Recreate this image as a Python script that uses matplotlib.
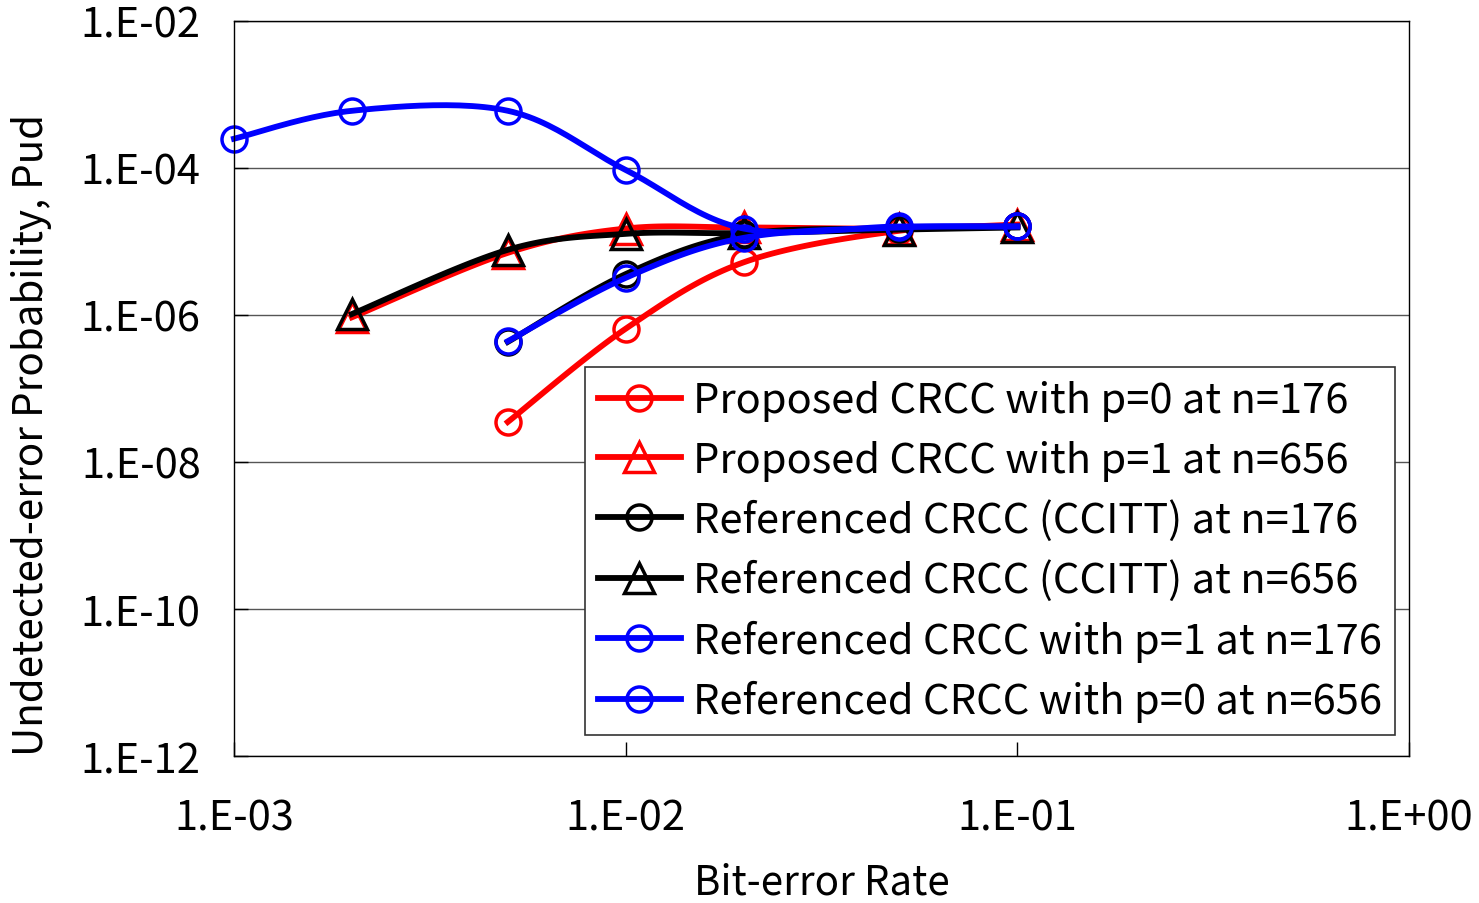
import numpy as np
import matplotlib.pyplot as plt
from matplotlib.ticker import NullLocator

plt.rcParams['font.family'] = ['Noto Sans CJK JP', 'DejaVu Sans']

# bit-error rates where each series was evaluated
ber_5 = [0.005, 0.01, 0.02, 0.05, 0.1]
ber_6 = [0.002, 0.005, 0.01, 0.02, 0.05, 0.1]
ber_7 = [0.001, 0.002, 0.005, 0.01, 0.02, 0.05, 0.1]

# undetected-error probability
prop_p0_176 = [3.5e-8, 6.5e-7, 5.2e-6, 1.4e-5, 1.6e-5]
prop_p1_656 = [9.3e-7, 7.0e-6, 1.5e-5, 1.55e-5, 1.5e-5, 1.7e-5]
ccitt_176 = [4.3e-7, 3.6e-6, 1.25e-5, 1.5e-5, 1.6e-5]
ccitt_656 = [1.03e-6, 7.7e-6, 1.27e-5, 1.3e-5, 1.45e-5, 1.55e-5]
ref_p1_176 = [4.4e-7, 3.2e-6, 1.12e-5, 1.55e-5, 1.6e-5]
ref_p0_656 = [2.5e-4, 6.0e-4, 6.0e-4, 9.4e-5, 1.5e-5, 1.6e-5, 1.6e-5]

labels = ['Proposed CRCC with p=0 at n=176',
          'Proposed CRCC with p=1 at n=656',
          'Referenced CRCC (CCITT) at n=176',
          'Referenced CRCC (CCITT) at n=656',
          'Referenced CRCC with p=1 at n=176',
          'Referenced CRCC with p=0 at n=656']

x_ticks = [1e-3, 1e-2, 1e-1, 1e0]
x_tick_labels = ['1.E-03', '1.E-02', '1.E-01', '1.E+00']
y_ticks = [1e-12, 1e-10, 1e-8, 1e-6, 1e-4, 1e-2]
y_tick_labels = ['1.E-12', '1.E-10', '1.E-08', '1.E-06', '1.E-04', '1.E-02']


def smooth(x, y, n=25):
    # spreadsheet style smoothed line: bezier through the points in log-log space
    lx = np.log10(x)
    ly = np.log10(y)
    px = np.concatenate([[lx[0]], lx, [lx[-1]]])
    py = np.concatenate([[ly[0]], ly, [ly[-1]]])
    t = np.linspace(0, 1, n + 1)[:-1]
    xs, ys = [], []
    for i in range(1, len(px) - 2):
        b0 = np.array([px[i], py[i]])
        b3 = np.array([px[i + 1], py[i + 1]])
        b1 = b0 + (np.array([px[i + 1], py[i + 1]]) - np.array([px[i - 1], py[i - 1]])) / 6
        b2 = b3 - (np.array([px[i + 2], py[i + 2]]) - np.array([px[i], py[i]])) / 6
        for tt in t:
            p = (1 - tt)**3 * b0 + 3 * (1 - tt)**2 * tt * b1 + 3 * (1 - tt) * tt**2 * b2 + tt**3 * b3
            xs.append(p[0])
            ys.append(p[1])
    xs.append(lx[-1])
    ys.append(ly[-1])
    marks = [i * n for i in range(len(x))]
    return 10**np.array(xs), 10**np.array(ys), marks


fig = plt.figure(figsize=(14.79, 9.04), dpi=100)
ax = fig.add_axes([0.1582, 0.1626, 0.7945, 0.8131])

series = [
    (ber_5, prop_p0_176, 'red', 'o'),
    (ber_6, prop_p1_656, 'red', '^'),
    (ber_5, ccitt_176, 'black', 'o'),
    (ber_6, ccitt_656, 'black', '^'),
    (ber_5, ref_p1_176, 'blue', 'o'),
    (ber_7, ref_p0_656, 'blue', 'o'),
]

for (x, y, c, m), lab in zip(series, labels):
    xs, ys, marks = smooth(x, y)
    ms = 18 if m == 'o' else 21
    ax.plot(xs, ys, color=c, lw=4.2, marker=m, markevery=marks, ms=ms,
            mfc='none', mec=c, mew=2.5, label=lab, clip_on=False)

ax.set_xscale('log')
ax.set_yscale('log')
ax.set_xlim(1e-3, 1)
ax.set_ylim(1e-12, 1e-2)
ax.set_xticks(x_ticks)
ax.set_xticklabels(x_tick_labels)
ax.set_yticks(y_ticks)
ax.set_yticklabels(y_tick_labels)
ax.xaxis.set_minor_locator(NullLocator())
ax.yaxis.set_minor_locator(NullLocator())
ax.tick_params(direction='in', length=10, width=1, labelsize=30)
ax.tick_params(axis='x', pad=30)
ax.tick_params(axis='y', pad=24)
ax.yaxis.grid(True, color='#555555', lw=1)
ax.set_axisbelow(True)
for s in ax.spines.values():
    s.set_color('black')
    s.set_linewidth(1)

ax.set_xlabel('Bit-error Rate', fontsize=29, va='center')
ax.xaxis.set_label_coords(0.5, -0.172)
ax.set_ylabel('Undetected-error Probability, Pud', fontsize=29, va='center')
ax.yaxis.set_label_coords(-0.172, 0.438)

leg = ax.legend(loc='lower right', bbox_to_anchor=(0.988, 0.028), fontsize=30,
                frameon=True, fancybox=False, numpoints=1, handlelength=1.97,
                handletextpad=0.29, labelspacing=0.44, borderpad=0.32, borderaxespad=0)
leg.get_frame().set_edgecolor('#333333')
leg.get_frame().set_linewidth(1.2)
leg.get_frame().set_alpha(1)

fig.savefig('out.png', dpi=100)
